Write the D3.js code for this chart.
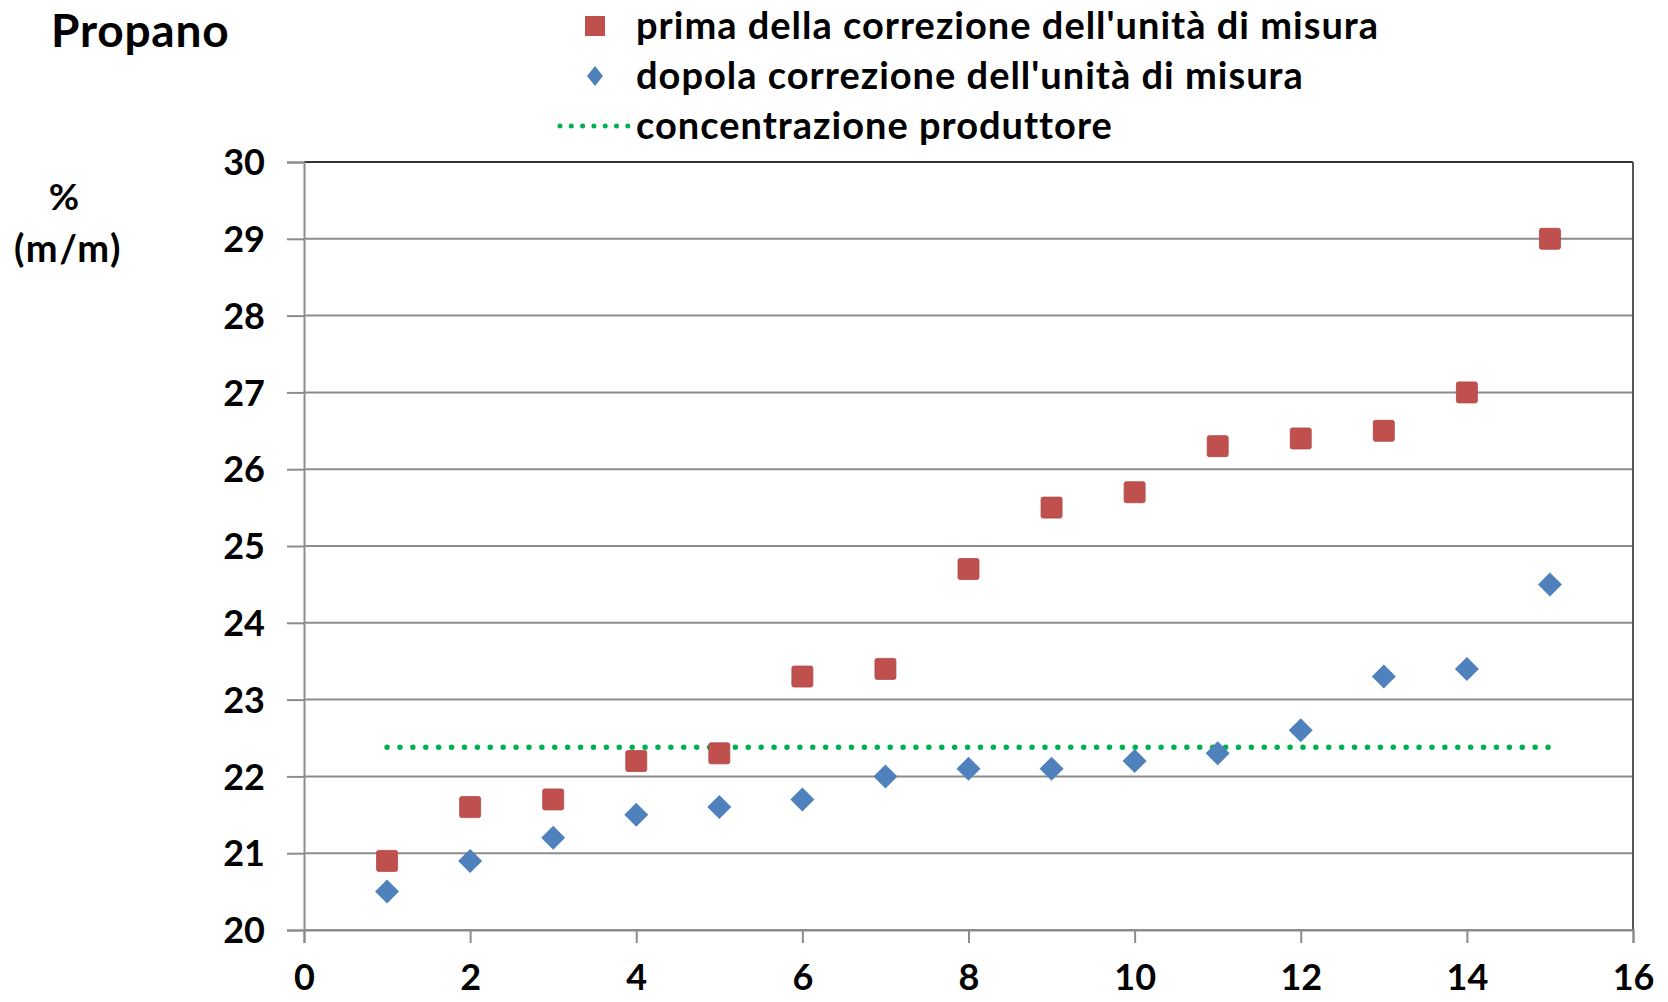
<!DOCTYPE html>
<html>
<head>
<meta charset="utf-8">
<script src="https://cdn.jsdelivr.net/npm/d3@7"></script>
<style>
  body { margin: 0; background: #fff; }
  text { font-family: Lato, "Open Sans", sans-serif; font-weight: bold; fill: #000; }
</style>
</head>
<body>
<svg id="chart" width="1668" height="1002"></svg>
<script>
const samples = [1, 2, 3, 4, 5, 6, 7, 8, 9, 10, 11, 12, 13, 14, 15];
const before = [20.9, 21.6, 21.7, 22.2, 22.3, 23.3, 23.4, 24.7, 25.5, 25.7, 26.3, 26.4, 26.5, 27.0, 29.0];
const after = [20.5, 20.9, 21.2, 21.5, 21.6, 21.7, 22.0, 22.1, 22.1, 22.2, 22.3, 22.6, 23.3, 23.4, 24.5];
const producer = [22.38, 22.38];
const producerX = [1, 15];
const xTicks = [0, 2, 4, 6, 8, 10, 12, 14, 16];
const yTicks = [20, 21, 22, 23, 24, 25, 26, 27, 28, 29, 30];
const legendLabels = [
  "prima della correzione dell'unità di misura",
  "dopola correzione dell'unità di misura",
  "concentrazione produttore"
];

const svg = d3.select('#chart');
const margin = { top: 162, right: 35, bottom: 72, left: 304 };
const width = 1668 - margin.left - margin.right;
const height = 1002 - margin.top - margin.bottom;

const x = d3.scaleLinear().domain([0, 16]).range([0, width]);
const y = d3.scaleLinear().domain([20, 30]).range([height, 0]);

const red = '#C0504D';
const blue = '#4F81BD';
const green = '#00B050';
const grid = '#8c8c8c';

const g = svg.append('g')
  .attr('transform', `translate(${margin.left},${margin.top})`);

// gridlines
g.append('g')
  .selectAll('line')
  .data(yTicks)
  .join('line')
    .attr('x1', 0)
    .attr('x2', width)
    .attr('y1', d => y(d))
    .attr('y2', d => y(d))
    .attr('stroke', grid)
    .attr('stroke-width', 2);

// plot frame (top and right)
g.append('line')
  .attr('x1', 0).attr('x2', width).attr('y1', 0).attr('y2', 0)
  .attr('stroke', '#333').attr('stroke-width', 2);
g.append('line')
  .attr('x1', width).attr('x2', width).attr('y1', 0).attr('y2', height)
  .attr('stroke', '#555').attr('stroke-width', 2);

// axes
const yAxis = g.append('g')
  .call(d3.axisLeft(y).tickValues(yTicks).tickSize(17).tickPadding(22));
const xAxis = g.append('g')
  .attr('transform', `translate(0,${height})`)
  .call(d3.axisBottom(x).tickValues(xTicks).tickSize(13).tickPadding(21));

[yAxis, xAxis].forEach(ax => {
  ax.select('.domain').attr('stroke', grid).attr('stroke-width', 2);
  ax.selectAll('.tick line').attr('stroke', grid).attr('stroke-width', 2);
  ax.selectAll('.tick text')
    .style('font-size', '36px')
    .style('font-family', 'Lato, "Open Sans", sans-serif')
    .style('font-weight', 'bold')
    .attr('fill', '#000');
});
yAxis.selectAll('.tick text').attr('dy', '0.35em');

// producer line
g.append('path')
  .datum(producerX.map((d, i) => [d, producer[i]]))
  .attr('d', d3.line().x(d => x(d[0])).y(d => y(d[1])))
  .attr('fill', 'none')
  .attr('stroke', green)
  .attr('stroke-width', 5.5)
  .attr('stroke-linecap', 'round')
  .attr('stroke-dasharray', '0 12.9');

// before: squares
const sq = 21;
g.append('g')
  .selectAll('rect')
  .data(samples)
  .join('rect')
    .attr('x', (d) => x(d) - sq / 2)
    .attr('y', (d, i) => y(before[i]) - sq / 2)
    .attr('width', sq)
    .attr('height', sq)
    .attr('rx', 2)
    .attr('fill', red)
    .attr('stroke', '#b04946')
    .attr('stroke-width', 0.8);

// after: diamonds
const dm = 12;
g.append('g')
  .selectAll('path')
  .data(samples)
  .join('path')
    .attr('transform', (d, i) => `translate(${x(d)},${y(after[i])})`)
    .attr('d', `M0,${-dm}L${dm},0L0,${dm}L${-dm},0Z`)
    .attr('fill', blue);

// title and y label
svg.append('text')
  .attr('x', 51)
  .attr('y', 47)
  .style('font-size', '46px')
  .style('letter-spacing', '0.8px')
  .text('Propano');

svg.append('text')
  .attr('x', 64)
  .attr('y', 210)
  .attr('text-anchor', 'middle')
  .style('font-size', '37px')
  .text('%');
svg.append('text')
  .attr('x', 68)
  .attr('y', 262)
  .attr('text-anchor', 'middle')
  .style('font-size', '38px')
  .style('letter-spacing', '1.5px')
  .text('(m/m)');

// legend
const legend = svg.append('g');
const rowsY = [26, 76, 126];
const textX = 636;

legend.append('rect')
  .attr('x', 595 - 10)
  .attr('y', rowsY[0] - 10)
  .attr('width', 20)
  .attr('height', 20)
  .attr('fill', red);

legend.append('path')
  .attr('transform', `translate(595,${rowsY[1]})`)
  .attr('d', 'M0,-10L8,0L0,10L-8,0Z')
  .attr('fill', blue);

legend.append('line')
  .attr('x1', 560)
  .attr('x2', 628)
  .attr('y1', rowsY[2])
  .attr('y2', rowsY[2])
  .attr('stroke', green)
  .attr('stroke-width', 5)
  .attr('stroke-linecap', 'round')
  .attr('stroke-dasharray', '0 11.3');

legend.selectAll('text.lbl')
  .data(legendLabels)
  .join('text')
    .attr('class', 'lbl')
    .attr('x', textX)
    .attr('y', (d, i) => rowsY[i])
    .attr('dy', '0.35em')
    .style('font-size', '38px')
    .style('letter-spacing', '1px')
    .text(d => d);
</script>
</body>
</html>
